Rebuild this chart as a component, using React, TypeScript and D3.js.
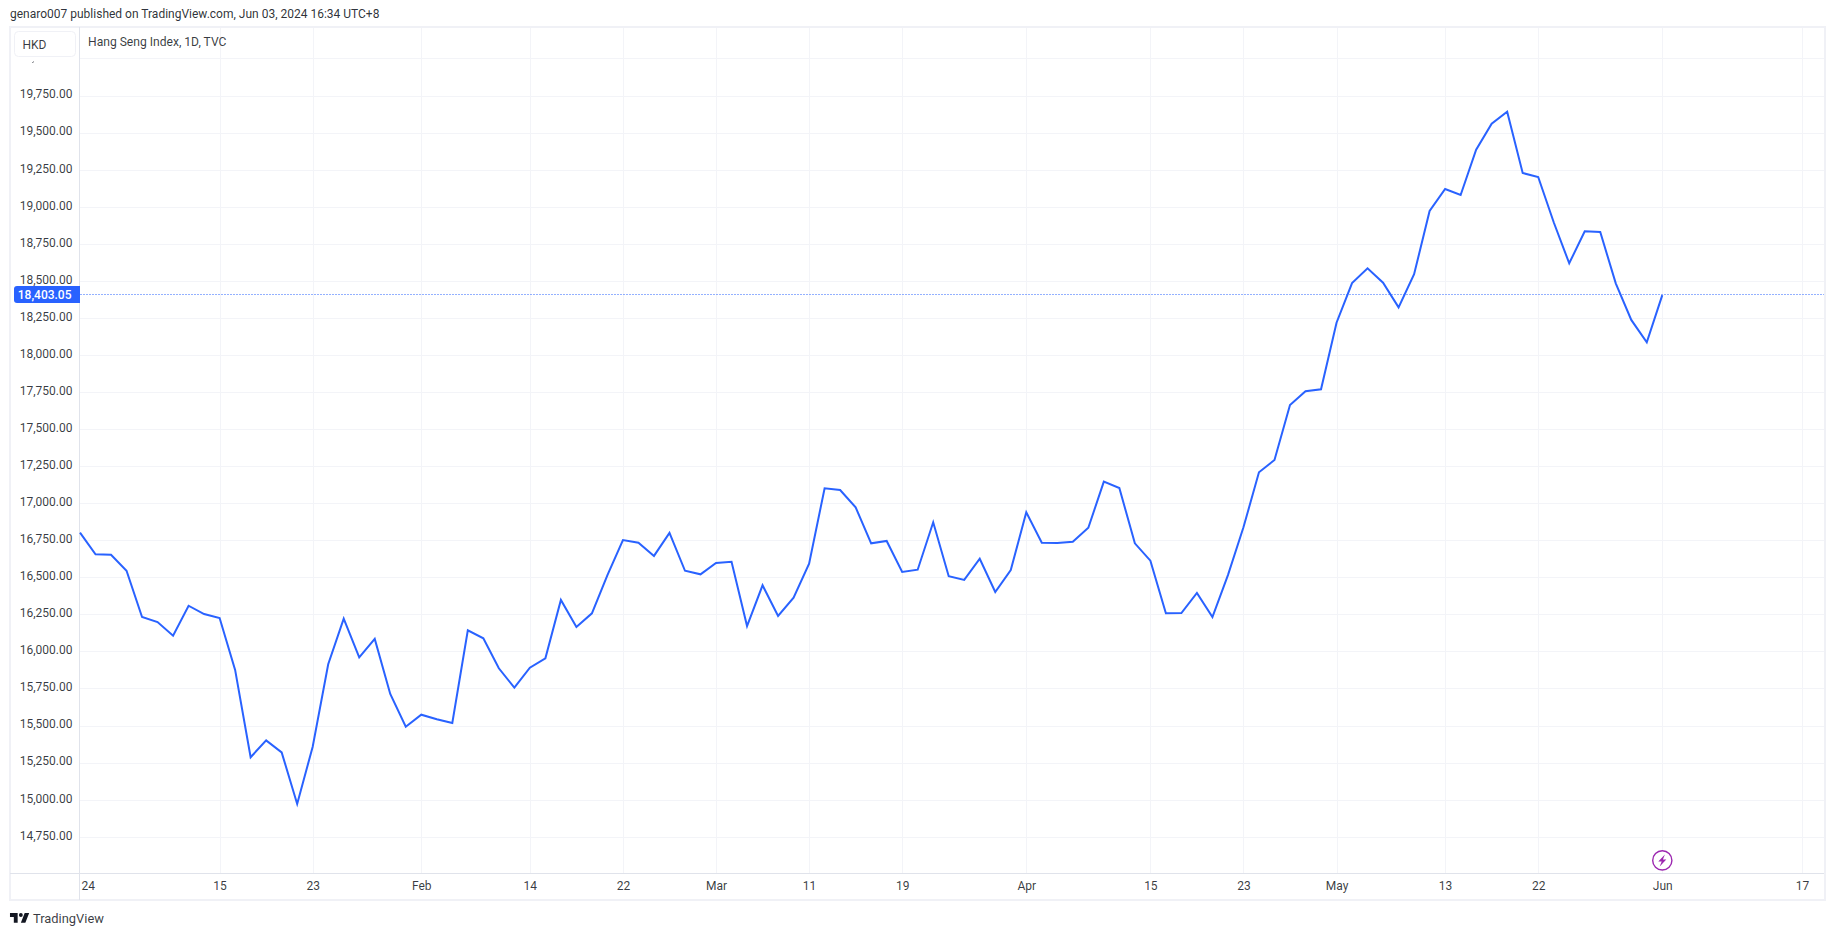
import React, { useEffect, useRef } from "react";
import * as d3 from "d3";

// daily closes (Jan 2 - Jun 3 2024)
const closes = [
  16801, 16655, 16652, 16544, 16232, 16198, 16106, 16308, 16252, 16225,
  15875, 15286, 15400, 15319, 14971, 15357, 15913, 16221, 15960, 16084,
  15713, 15492, 15573, 15542, 15517, 16142, 16088, 15886, 15755, 15890,
  15953, 16347, 16165, 16257, 16515, 16751, 16733, 16644, 16799, 16544,
  16520, 16596, 16605, 16171, 16446, 16239, 16362, 16592, 17100, 17089,
  16972, 16729, 16745, 16536, 16551, 16871, 16507, 16482, 16625, 16401,
  16549, 16938, 16733, 16731, 16740, 16834, 17145, 17102, 16729, 16612,
  16257, 16259, 16394, 16232, 16515, 16837, 17208, 17291, 17662, 17755,
  17768, 18217, 18485, 18584, 18487, 18321, 18544, 18971, 19119, 19079,
  19384, 19560, 19641, 19227, 19200, 18895, 18618, 18834, 18829, 18483,
  18236, 18085, 18403.05,
];

const priceTicks = [
  14750, 15000, 15250, 15500, 15750, 16000, 16250, 16500, 16750, 17000, 17250,
  17500, 17750, 18000, 18250, 18500, 18750, 19000, 19250, 19500, 19750, 20000,
];

const timeTickBars = [0, 9, 15, 22, 29, 35, 41, 47, 53, 61, 69, 75, 81, 88, 94, 102, 111];
const timeTickLabels = ["24", "15", "23", "Feb", "14", "22", "Mar", "11", "19", "Apr", "15", "23", "May", "13", "22", "Jun", "17"];

const lastPrice = 18403.05;

const WIDTH = 1835;
const HEIGHT = 936;
const FONT = "Roboto, sans-serif";
const TEXT = "#131722";
const BLUE = "#2962ff";
const GRID = "#f3f4f8";
const FRAME = "#f0f1f6";
const AXIS = "#e0e3eb";

const plot = { left: 79.5, right: 1824, top: 27, bottom: 873 };

const App: React.FC = () => {
  const chartRef = useRef<SVGSVGElement | null>(null);

  useEffect(() => {
    const svg = d3.select(chartRef.current);
    svg.selectAll("*").remove();

    const x = d3.scaleLinear().domain([0, 102]).range([80, 1662.3]);
    const y = d3.scaleLinear().domain([14750, 19750]).range([836.7, 95.5]);

    svg.append("rect").attr("width", WIDTH).attr("height", HEIGHT).attr("fill", "#fff");

    // grid
    svg.append("g")
      .selectAll("line")
      .data(priceTicks)
      .join("line")
      .attr("x1", plot.left)
      .attr("x2", plot.right)
      .attr("y1", (d) => Math.round(y(d)) + 0.5)
      .attr("y2", (d) => Math.round(y(d)) + 0.5)
      .attr("stroke", GRID);

    svg.append("g")
      .selectAll("line")
      .data(timeTickBars.slice(1))
      .join("line")
      .attr("x1", (d) => Math.round(x(d)) + 0.5)
      .attr("x2", (d) => Math.round(x(d)) + 0.5)
      .attr("y1", plot.top)
      .attr("y2", plot.bottom)
      .attr("stroke", GRID);

    // price axis
    const priceAxis = d3
      .axisLeft(y)
      .tickValues(priceTicks)
      .tickSize(0)
      .tickPadding(7)
      .tickFormat((d) => d3.format(",.2f")(d as number));
    const priceG = svg.append("g").attr("transform", `translate(${plot.left},0)`).call(priceAxis);
    priceG.select(".domain").remove();
    priceG.selectAll("text")
      .attr("dy", "0.2em")
      .attr("font-family", FONT)
      .attr("font-size", 12)
      .attr("fill", TEXT)
      .attr("fill-opacity", 0.85);

    // time axis
    const timeAxis = d3
      .axisBottom(x)
      .tickValues(timeTickBars)
      .tickSize(0)
      .tickPadding(8)
      .tickFormat((_, i) => timeTickLabels[i]);
    const timeG = svg.append("g").attr("transform", `translate(0,${plot.bottom})`).call(timeAxis);
    timeG.select(".domain").remove();
    timeG.selectAll("text").attr("font-family", FONT).attr("font-size", 12).attr("fill", TEXT).attr("fill-opacity", 0.85);
    timeG.select("g.tick text").attr("text-anchor", "start").attr("dx", 1);

    // axis borders and outer frame
    svg.append("rect")
      .attr("x", 10).attr("y", 27)
      .attr("width", 1815).attr("height", 873)
      .attr("fill", "none").attr("stroke", FRAME).attr("stroke-width", 2);
    svg.append("line").attr("x1", plot.left).attr("x2", plot.left).attr("y1", 27).attr("y2", 900).attr("stroke", AXIS);
    svg.append("line").attr("x1", 10).attr("x2", plot.right).attr("y1", plot.bottom + 0.5).attr("y2", plot.bottom + 0.5).attr("stroke", AXIS);

    // last price line
    svg.append("line")
      .attr("x1", plot.left + 1)
      .attr("x2", plot.right)
      .attr("y1", 294.5)
      .attr("y2", 294.5)
      .attr("stroke", BLUE)
      .attr("stroke-dasharray", "1 2");

    // series
    const line = d3.line<number>().x((_, i) => x(i)).y((d) => y(d));
    svg.append("path")
      .attr("d", line(closes))
      .attr("fill", "none")
      .attr("stroke", BLUE)
      .attr("stroke-width", 2)
      .attr("stroke-linejoin", "miter");

    // last price label
    svg.append("path")
      .attr("d", "M80 286H17a3 3 0 0 0-3 3V300a3 3 0 0 0 3 3H80Z")
      .attr("fill", BLUE);
    svg.append("text")
      .attr("x", 71.5).attr("y", 298.6)
      .attr("text-anchor", "end")
      .attr("font-family", FONT).attr("font-size", 12).attr("font-weight", 500)
      .attr("fill", "#fff")
      .text(d3.format(",.2f")(lastPrice));

    // currency button covers the top label, only its comma peeks out
    svg.append("rect")
      .attr("x", 11).attr("y", 28).attr("width", 68).attr("height", 37).attr("fill", "#fff");
    svg.append("rect")
      .attr("x", 14.5).attr("y", 31.5).attr("width", 61).attr("height", 25).attr("rx", 4)
      .attr("fill", "#fff").attr("stroke", FRAME);
    svg.append("text")
      .attr("x", 34.5).attr("y", 49)
      .attr("text-anchor", "middle")
      .attr("font-family", FONT).attr("font-size", 12).attr("fill", TEXT).attr("fill-opacity", 0.85)
      .text("HKD");
    svg.append("path")
      .attr("d", "M33.5 61.5l-1 1.5")
      .attr("stroke", TEXT).attr("stroke-opacity", 0.7);

    // titles
    svg.append("text")
      .attr("x", 10).attr("y", 18)
      .attr("font-family", FONT).attr("font-size", 12).attr("fill", TEXT).attr("fill-opacity", 0.9)
      .text("genaro007 published on TradingView.com, Jun 03, 2024 16:34 UTC+8");
    svg.append("text")
      .attr("x", 88).attr("y", 46)
      .attr("font-family", FONT).attr("font-size", 12.1).attr("fill", TEXT).attr("fill-opacity", 0.85)
      .text("Hang Seng Index, 1D, TVC");

    // dividend-style marker under the last bar
    const marker = svg.append("g").attr("transform", `translate(${x(102)},860.4)`);
    marker.append("circle").attr("r", 9.6).attr("fill", "#fff").attr("stroke", "#9c27b0").attr("stroke-width", 1.4);
    marker.append("path").attr("d", "M2.6-6L-4 1H-.6L-2.6 6L4-1H.6Z").attr("fill", "#9c27b0");

    // TradingView logo
    svg.append("path")
      .attr("transform", "translate(8.7,909.2) scale(0.64)")
      .attr("d", "M14 6H2v6h6v9h6V6zm12 15h-7l6-15h7l-6 15zm-7-9a3 3 0 1 0 0-6 3 3 0 0 0 0 6z")
      .attr("fill", TEXT);
    svg.append("text")
      .attr("x", 33).attr("y", 923)
      .attr("font-family", FONT).attr("font-size", 12.9).attr("fill", TEXT).attr("fill-opacity", 0.85)
      .text("TradingView");
  }, []);

  return (
    <svg
      ref={chartRef}
      width={WIDTH}
      height={HEIGHT}
      style={{ position: "absolute", top: 0, left: 0, display: "block" }}
    />
  );
};

export default App;
